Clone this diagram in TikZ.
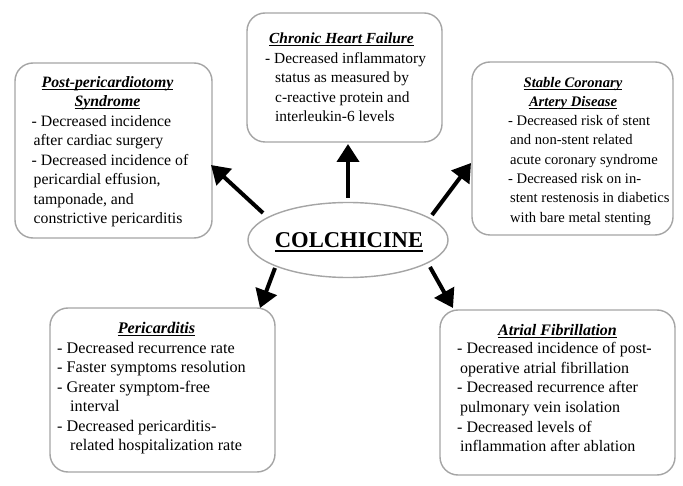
\documentclass[tikz,border=0pt]{standalone}
\usepackage{fontspec}
\setmainfont{Liberation Serif}
\usetikzlibrary{arrows.meta,shapes.geometric}
\definecolor{bordergray}{RGB}{165,165,165}
\newsavebox\ulbox
\newcommand\ulx[1]{\sbox\ulbox{#1}\rlap{\rule[-2.4pt]{\wd\ulbox}{0.9pt}}\usebox\ulbox}
\newcommand\ulbig[1]{\sbox\ulbox{#1}\rlap{\rule[-4.2pt]{\wd\ulbox}{1.7pt}}\usebox\ulbox}
\newcommand\ind[1]{\hspace*{#1pt}}
\begin{document}
\begin{tikzpicture}[x=1pt,y=-1pt,
  box/.style={draw=bordergray, line width=1.4pt, rounded corners=18pt, fill=white, inner sep=0pt},
  ttl/.style={anchor=north, align=center, inner sep=0pt},
  body/.style={anchor=north west, align=left, inner sep=0pt},
  arr/.style={line width=4pt, -{Triangle[length=18pt,width=22pt]}}]
\fill[white] (0,0) rectangle (683,486);
\useasboundingbox (0,0) rectangle (683,486);

% boxes
\node[box, minimum width=197pt, minimum height=175pt] (ppt) at (113.5,150.5) {};
\node[box, minimum width=195pt, minimum height=129pt] (chf) at (344.5,77.5) {};
\node[box, minimum width=201pt, minimum height=173pt] (scad) at (572.5,148.5) {};
\node[box, minimum width=225pt, minimum height=164pt] (peri) at (162.5,390) {};
\node[box, minimum width=235pt, minimum height=165pt] (af) at (557.5,392.5) {};
\node[ellipse, draw=bordergray, line width=1.4pt, fill=white, minimum width=200pt, minimum height=75pt, inner sep=0pt] (col) at (348,240) {};
\node[anchor=base, inner sep=0pt, font=\fontsize{22.6}{27}\selectfont\bfseries] (colt) at (349,248) {\ulbig{COLCHICINE}};

% Post-pericardiotomy
\node[ttl, font=\fontsize{15.8}{19.5}\selectfont\bfseries\itshape] (pptt) at (107.5,76.1)
  {\ulx{Post-pericardiotomy}\\\ulx{Syndrome}};
\node[body, font=\fontsize{15.8}{19.5}\selectfont] (pptb) at (31.5,115.1)
  {- Decreased incidence\\
   \ind{2}after cardiac surgery\\
   - Decreased incidence of\\
   \ind{2}pericardial effusion,\\
   \ind{2}tamponade, and\\
   \ind{2}constrictive pericarditis};

% Chronic Heart Failure
\node[ttl, font=\fontsize{15.4}{19.3}\selectfont\bfseries\itshape] (chft) at (341.5,32.4)
  {\ulx{Chronic Heart Failure}};
\node[body, font=\fontsize{15.4}{19.3}\selectfont] (chfb) at (265,52.4)
  {- Decreased inflammatory\\
   \ind{10}status as measured by\\
   \ind{10}c-reactive protein and\\
   \ind{10}interleukin-6 levels};

% Stable Coronary Artery Disease
\node[ttl, font=\fontsize{14.6}{19.3}\selectfont\bfseries\itshape] (scadt) at (573,77)
  {\ulx{Stable Coronary}\\\ulx{Artery Disease}};
\node[body, font=\fontsize{14.6}{19.3}\selectfont] (scadb) at (508,115.1)
  {- Decreased risk of stent\\
   \ind{2}and non-stent related\\
   \ind{2}acute coronary syndrome\\
   - Decreased risk on in-\\
   \ind{2}stent restenosis in diabetics\\
   \ind{2}with bare metal stenting};

% Pericarditis
\node[ttl, font=\fontsize{16.2}{19.5}\selectfont\bfseries\itshape] (perit) at (156.5,321.8)
  {\ulx{Pericarditis}};
\node[body, font=\fontsize{16.2}{19.5}\selectfont] (perib) at (57,341.8)
  {- Decreased recurrence rate\\
   - Faster symptoms resolution\\
   - Greater symptom-free\\
   \ind{13}interval\\
   - Decreased pericarditis-\\
   \ind{13}related hospitalization rate};

% Atrial Fibrillation
\node[ttl, font=\fontsize{16}{19.7}\selectfont\bfseries\itshape] (aft) at (557.5,324)
  {\ulx{Atrial Fibrillation}};
\node[body, font=\fontsize{16}{19.7}\selectfont] (afb) at (457,342)
  {- Decreased incidence of post-\\
   \ind{3}operative atrial fibrillation\\
   - Decreased recurrence after\\
   \ind{3}pulmonary vein isolation\\
   - Decreased levels of\\
   \ind{3}inflammation after ablation};

% arrows
\coordinate (a1s) at (263,213); \coordinate (a1e) at (211,165);
\coordinate (a2s) at (348,198); \coordinate (a2e) at (348,144);
\coordinate (a3s) at (432,215); \coordinate (a3e) at (471,163);
\coordinate (a4s) at (275,268); \coordinate (a4e) at (260,308);
\coordinate (a5s) at (430,267); \coordinate (a5e) at (453,308);
\draw[arr] (a1s) -- (a1e);
\draw[arr] (a2s) -- (a2e);
\draw[arr] (a3s) -- (a3e);
\draw[arr] (a4s) -- (a4e);
\draw[arr] (a5s) -- (a5e);
\end{tikzpicture}
\end{document}
